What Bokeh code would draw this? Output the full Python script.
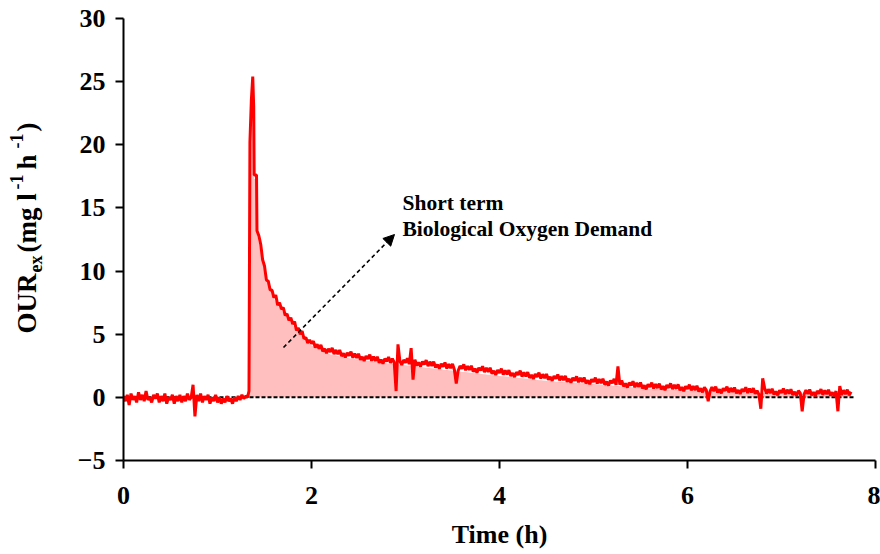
import math
import numpy as np
from bokeh.plotting import figure
from bokeh.layouts import row, column
from bokeh.models import Arrow, NormalHead, Range1d, FixedTicker, Label
from bokeh.core.properties import value
from bokeh.embed import file_html
from bokeh.resources import INLINE

# ---------------- data ----------------
# baseline before substrate addition, t = 0.00 .. 1.32 h every 0.02 h
baseline_step = 0.02
baseline_values = [0.1, -0.3, 0.2, -0.6, 0.3, -0.2, 0.1, -0.4, 0.4, -0.2,
                   0.2, -0.3, 0.5, -0.2, 0.0, -0.4, 0.2, -0.1, 0.3, -0.4,
                   0.1, -0.3, 0.3, -0.5, 0.0, -0.2, 0.2, -0.5, 0.1, -0.3,
                   0.2, -0.4, 0.1, -0.3, 0.3, -0.2, 0.0, 1.0, -1.5, 0.2,
                   -0.3, 0.3, -0.4, 0.1, -0.2, 0.2, -0.5, 0.0, -0.3, 0.2,
                   -0.4, 0.0, -0.5, -0.1, -0.4, 0.1, -0.3, -0.1, -0.5, 0.0,
                   -0.3, 0.1, -0.2, 0.2, -0.1, 0.1, 0.0]

# peak after substrate addition
peak_times = [1.335, 1.345, 1.360, 1.375, 1.385, 1.390, 1.415, 1.420, 1.440]
peak_values = [0.5, 20.2, 23.5, 25.4, 23.0, 17.6, 17.6, 13.2, 12.8]

# decay, t = 1.46 .. 7.74 h every 0.02 h
tail_start = 1.46
tail_step = 0.02
tail_values = [12.1, 10.9, 10.4, 9.3, 9.2, 8.5, 8.5, 7.9, 8.1, 7.3,
               7.5, 7.0, 7.1, 6.5, 6.6, 6.1, 6.3, 5.8, 6.0, 5.3,
               5.5, 5.0, 5.25, 4.65, 4.75, 4.3, 4.55, 4.25, 4.45, 3.95,
               4.2, 3.85, 4.15, 3.65, 3.85, 3.5, 3.85, 3.6, 3.92, 3.43,
               3.75, 3.42, 3.75, 3.27, 3.49, 3.16, 3.53, 3.3, 3.62, 3.14,
               3.46, 3.13, 3.45, 2.98, 3.21, 2.89, 3.27, 3.05, 3.38, 2.9,
               3.22, 2.89, 3.21, 2.74, 2.98, 2.67, 3.06, 2.85, 3.19, 2.73,
               3.07, 2.76, 0.5, 4.2, 2.88, 2.57, 2.96, 2.75, 3.09, 2.63,
               3.9, 1.4, 2.99, 2.52, 2.76, 2.44, 2.83, 2.61, 2.95, 2.48,
               2.82, 2.5, 2.83, 2.36, 2.59, 2.27, 2.65, 2.43, 2.76, 2.29,
               2.63, 2.31, 2.65, 2.18, 1.1, 2.1, 2.49, 2.27, 2.61, 2.15,
               2.48, 2.17, 2.5, 2.04, 2.27, 1.96, 2.34, 2.13, 2.46, 2.0,
               2.33, 2.01, 2.34, 1.87, 2.1, 1.78, 2.16, 1.94, 2.27, 1.8,
               2.13, 1.82, 2.15, 1.69, 1.92, 1.61, 1.99, 1.78, 2.11, 1.65,
               1.98, 1.67, 2.0, 1.54, 1.77, 1.46, 1.84, 1.63, 1.96, 1.5,
               1.83, 1.52, 1.85, 1.39, 1.62, 1.31, 1.69, 1.48, 1.81, 1.35,
               1.68, 1.37, 1.7, 1.24, 1.47, 1.16, 1.54, 1.33, 1.66, 1.2,
               1.54, 1.23, 1.57, 1.11, 1.35, 1.04, 1.43, 1.22, 1.56, 1.1,
               1.44, 1.13, 1.47, 1.01, 1.25, 0.94, 1.33, 1.12, 1.46, 1.0,
               2.45, 1.01, 1.34, 0.87, 1.1, 0.78, 1.16, 0.94, 1.27, 0.8,
               1.14, 0.83, 1.17, 0.71, 0.95, 0.64, 1.03, 0.82, 1.16, 0.7,
               1.05, 0.74, 1.09, 0.63, 0.88, 0.57, 0.97, 0.76, 1.11, 0.65,
               0.99, 0.68, 1.02, 0.56, 0.8, 0.49, 0.88, 0.67, 1.01, 0.55,
               0.89, 0.58, 0.92, 0.47, 0.71, 0.4, 0.79, 0.58, -0.3, 0.47,
               0.81, 0.5, 0.85, 0.39, 0.63, 0.32, 0.72, 0.51, 0.85, 0.4,
               0.74, 0.44, 0.78, 0.33, 0.57, 0.27, 0.66, 0.46, 0.8, 0.35,
               0.69, 0.39, 0.73, 0.28, 0.52, 0.22, -0.9, 1.5, 0.75, 0.3,
               0.64, 0.34, 0.68, 0.23, 0.47, 0.17, 0.56, 0.36, 0.7, 0.25,
               0.6, 0.3, 0.64, 0.19, 0.44, 0.14, 0.53, 0.33, -1.1, 0.23,
               0.57, 0.27, 0.62, 0.16, 0.41, 0.11, 0.51, 0.3, 0.65, 0.2,
               0.55, 0.25, 0.6, 0.15, 0.4, 0.1, 0.5, -1.1, 0.9, 0.2,
               0.56, 0.26, 0.61, 0.17, 0.45]

# smoothed area = short term BOD
area_times = [1.335, 1.36, 1.375, 1.39, 1.42, 1.425, 1.46, 1.50, 1.55, 1.60,
              1.70, 1.80, 1.90, 2.00, 2.20, 2.40, 2.60, 2.80, 3.00, 3.50,
              4.00, 4.50, 5.00, 5.50, 6.00, 6.50, 7.00, 7.50, 7.72, 7.73]
area_values = [0.0, 23.0, 24.8, 17.3, 17.3, 12.8, 11.5, 9.9, 8.8, 7.8,
               6.7, 5.7, 4.8, 4.1, 3.4, 3.1, 2.9, 2.7, 2.55, 2.1,
               1.7, 1.3, 1.05, 0.75, 0.55, 0.4, 0.3, 0.25, 0.25, 0.0]

zero_line_t = [0.0, 7.77]
zero_line_v = [0.0, 0.0]

x_ticks = [0, 2, 4, 6, 8]
y_ticks = [-5, 0, 5, 10, 15, 20, 25, 30]

x_title = "Time (h)"
y_title_parts = ["OUR", "ex", "(mg l", "-1", "h", "-1", ")"]
note_lines = ["Short term", "Biological Oxygen Demand"]

# ---------------- assemble series ----------------
baseline_times = list(np.round(np.arange(len(baseline_values)) * baseline_step, 3))
tail_times = list(np.round(tail_start + np.arange(len(tail_values)) * tail_step, 3))
our_t = baseline_times + peak_times + tail_times
our_v = baseline_values + peak_values + tail_values

FONT = "Liberation Serif"
W, H = 880, 554
LW = 50                               # width of the y-title strip
BH = 37                               # height of the x-title strip
FL, FR, FT, FB = 123, 875, 18, 460    # frame edges in page px
X0, X1, Y0, Y1 = 0, 8, -5, 30


def dx(px):
    return X0 + (px - FL) * (X1 - X0) / (FR - FL)


def dy(py):
    return Y0 + (FB - py) * (Y1 - Y0) / (FB - FT)


def strip(width, height, xr, yr):
    f = figure(width=width, height=height, output_backend="svg",
               toolbar_location=None, x_range=xr, y_range=yr,
               x_axis_location=None, y_axis_location=None,
               min_border=0, min_border_left=0, min_border_right=0,
               min_border_top=0, min_border_bottom=0)
    f.outline_line_color = None
    f.xgrid.visible = False
    f.ygrid.visible = False
    return f


# ---- main plot ----
PH = H - BH
p = figure(width=W - LW, height=PH, output_backend="svg", toolbar_location=None,
           x_range=Range1d(X0, X1), y_range=Range1d(Y0, Y1),
           min_border_left=FL - LW, min_border_right=W - FR,
           min_border_top=FT, min_border_bottom=PH - FB)
p.outline_line_color = None
p.xgrid.visible = False
p.ygrid.visible = False

p.varea(x=area_times, y1=[0] * len(area_times), y2=area_values,
        fill_color="#FFBFBF", fill_alpha=1.0)
p.line(zero_line_t, zero_line_v, line_color="black", line_width=2,
       line_dash="4 2")
p.line(our_t, our_v, line_color="#FF0000", line_width=3)

for ax, ticks in ((p.xaxis[0], x_ticks), (p.yaxis[0], y_ticks)):
    ax.ticker = FixedTicker(ticks=ticks)
    ax.axis_line_width = 2
    ax.axis_line_color = "black"
    ax.major_tick_line_width = 2
    ax.major_tick_line_color = "black"
    ax.major_tick_in = 0
    ax.major_tick_out = 8
    ax.minor_tick_line_color = None
    ax.major_label_text_font = FONT
    ax.major_label_text_font_style = "bold"
    ax.major_label_text_color = "black"
    ax.major_label_text_font_size = "26px"
p.xaxis.major_label_standoff = 18
p.yaxis.major_label_standoff = 10

# arrow
p.add_layout(Arrow(x_start=dx(283), y_start=dy(347), x_end=dx(394), y_end=dy(234),
                   line_color="black", line_width=1.6, line_dash="4 3",
                   end=NormalHead(size=11, fill_color="black", line_color="black",
                                  line_width=1)))

# annotation text
for txt, py in zip(note_lines, (202, 228)):
    p.add_layout(Label(x=dx(402), y=dy(py), text=txt, text_font=FONT,
                       text_font_style="bold", text_font_size="21.5px",
                       text_color="black", text_align="left",
                       text_baseline="alphabetic"))

# ---- x title strip (its frame is aligned with the main frame) ----
bp = strip(W - LW, BH, Range1d(X0, X1), Range1d(0, BH))
bp.text(x=[(X0 + X1) / 2], y=[H - 533.5], text=[x_title],
        text_font=value(FONT), text_font_style="bold",
        text_font_size=value("26px"), text_color="black",
        text_align="center", text_baseline="middle")

# ---- y title strip (rotated text with sub/superscripts) ----
lp = strip(LW, H, Range1d(0, LW), Range1d(0, H))
# (centre x px, start y px, size) for each part
part_pos = [(26, 333, "27px"), (35, 272, "18px"), (26, 252, "27px"),
            (16, 189, "18px"), (26, 169, "27px"), (16, 148, "18px"),
            (26, 131, "27px")]
for txt, (px, py, fs) in zip(y_title_parts, part_pos):
    lp.text(x=[px], y=[H - py], text=[txt], angle=math.pi / 2,
            text_font=value(FONT), text_font_style="bold",
            text_font_size=value(fs), text_color="black",
            text_align="left", text_baseline="middle")

layout = row(lp, column(p, bp))
open("out.html", "w").write(file_html(layout, INLINE))
